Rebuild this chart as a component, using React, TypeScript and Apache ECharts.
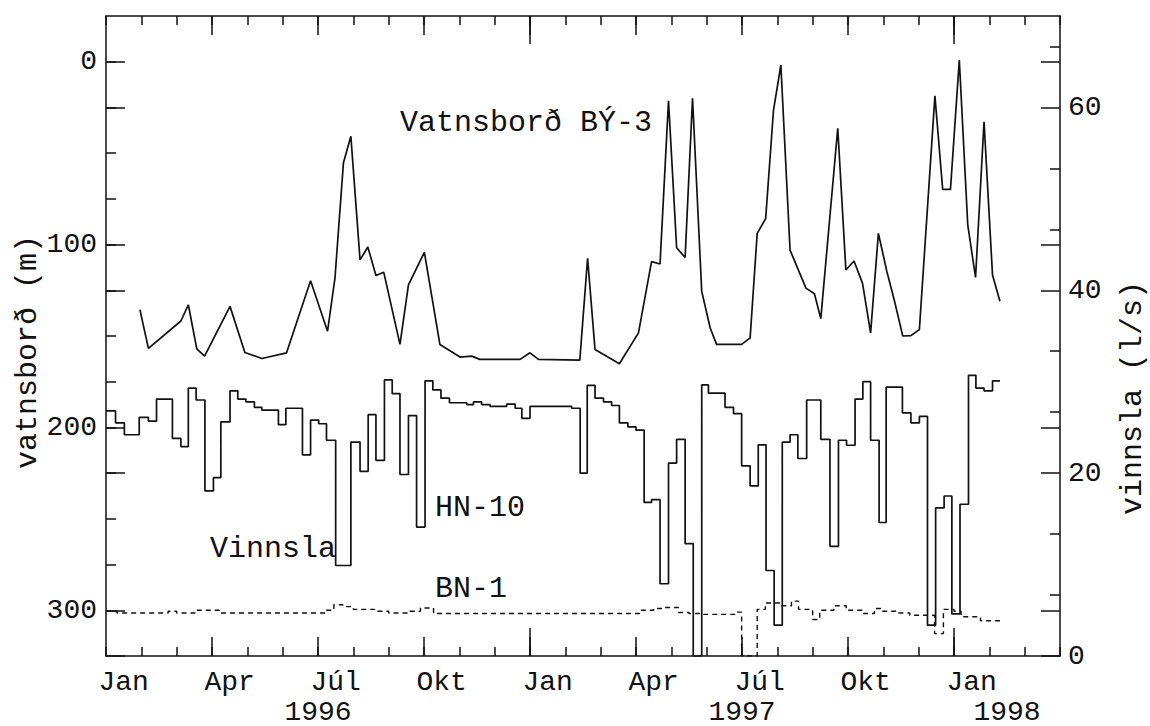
import React, { useEffect, useRef } from "react";
import * as echarts from "echarts";

// ---------- axis ranges / ticks ----------
const X_MIN = 0; // months after 1 Jan 1996
const X_MAX = 27;
const monthTicks = [0, 1, 2, 3, 4, 5, 6, 7, 8, 9, 10, 11, 12, 13, 14, 15, 16, 17, 18, 19, 20, 21, 22, 23, 24, 25, 26, 27];
const quarterTicks = [3, 6, 9, 12, 15, 18, 21, 24];
const yearTicks = [12, 24];
const monthLabelPos = [0.5, 3.5, 6.5, 9.5, 12.5, 15.5, 18.5, 21.5, 24.5];
const monthLabels = ["Jan", "Apr", "Júl", "Okt", "Jan", "Apr", "Júl", "Okt", "Jan"];
const yearLabelPos = [6, 18, 25.5];
const yearLabels = ["1996", "1997", "1998"];

const levelMajor = [0, 100, 200, 300];
const levelMinor = [0, 25, 50, 75, 100, 125, 150, 175, 200, 225, 250, 275, 300];
const flowMajor = [0, 20, 40, 60];
const flowMinor = [6.667, 13.333, 26.667, 33.333, 46.667, 53.333, 66.667];

// ---------- data ----------
// Vatnsborð BÝ-3 (m, left axis, inverted)
const by3Month = [0.96, 1.2, 2.12, 2.33, 2.57, 2.79, 3.51, 3.93, 4.41, 5.11, 5.79, 6.27, 6.48, 6.72, 6.93, 7.19, 7.41, 7.64, 7.86, 8.32, 8.56, 9.01, 9.45, 10.02, 10.35, 10.58, 11.72, 12.0, 12.24, 13.41, 13.63, 13.84, 14.53, 15.07, 15.44, 15.68, 15.92, 16.15, 16.39, 16.6, 16.86, 17.1, 17.28, 17.99, 18.23, 18.43, 18.67, 18.89, 19.1, 19.36, 19.81, 20.05, 20.23, 20.71, 20.94, 21.17, 21.41, 21.64, 21.86, 22.1, 22.33, 22.55, 22.78, 23.02, 23.46, 23.68, 23.9, 24.15, 24.39, 24.61, 24.85, 25.09, 25.3];
const by3Level = [135.6, 156.8, 141.8, 132.9, 157, 161, 133.8, 159, 162.3, 159.2, 119.8, 147.4, 118.4, 55.3, 40.8, 108.4, 101.3, 116.9, 115.1, 154.6, 122, 104.2, 154.6, 161.5, 161, 162.8, 162.8, 159.2, 162.8, 163.2, 107.5, 157.4, 165.2, 148.3, 109.3, 110.6, 21.4, 101.7, 107.1, 20, 125.6, 145.6, 154.6, 154.6, 151, 93.9, 85.8, 26.8, 1.8, 103, 123.8, 126.9, 140.5, 36.4, 113.9, 109, 121.1, 148.3, 93.9, 114.7, 132, 150, 149.8, 146.5, 18.7, 69.8, 69.8, -0.9, 89.4, 118, 32.8, 116.6, 131];

// Vinnsla HN-10 (l/s, right axis), level holds from month until next month
const hnMonth = [0, 0.27, 0.52, 0.94, 1.2, 1.43, 1.88, 2.12, 2.33, 2.55, 2.8, 3.04, 3.25, 3.51, 3.73, 3.96, 4.2, 4.41, 4.88, 5.09, 5.56, 5.79, 6.02, 6.24, 6.5, 6.93, 7.19, 7.42, 7.64, 7.88, 8.1, 8.32, 8.56, 8.79, 9.03, 9.25, 9.48, 9.72, 10.21, 10.4, 10.63, 10.87, 11.34, 11.58, 11.77, 12.0, 13.18, 13.42, 13.62, 13.84, 14.08, 14.31, 14.53, 14.77, 15.0, 15.23, 15.44, 15.68, 15.92, 16.15, 16.39, 16.62, 16.86, 17.05, 17.52, 17.76, 17.99, 18.23, 18.46, 18.68, 18.91, 19.14, 19.36, 19.58, 19.83, 20.23, 20.49, 20.73, 20.96, 21.2, 21.42, 21.64, 21.88, 22.08, 22.54, 22.78, 23.02, 23.25, 23.48, 23.72, 23.94, 24.17, 24.41, 24.62, 24.85, 25.09];
const hnFlow = [26.8, 25.5, 24.2, 26.1, 25.7, 28.1, 23.8, 22.9, 29.3, 28.0, 18.05, 19.5, 25.6, 29.0, 28.1, 27.8, 27.2, 26.9, 25.3, 27.1, 22.0, 25.8, 25.4, 23.6, 9.9, 23.4, 20.2, 26.4, 21.4, 30.2, 28.7, 19.85, 26.3, 14.1, 30.1, 29.1, 28.2, 27.7, 27.5, 27.8, 27.5, 27.3, 27.55, 27.1, 26.0, 27.3, 27.1, 20.0, 29.6, 28.2, 27.8, 27.4, 25.5, 25.05, 24.7, 16.8, 17.1, 7.9, 21.1, 23.7, 12.3, 0, 29.65, 28.75, 27.2, 26.5, 20.8, 18.6, 23.1, 9.35, 3.37, 23.4, 24.2, 21.6, 28.0, 23.7, 12.0, 23.6, 23.05, 28.1, 30.0, 23.6, 14.6, 29.4, 26.6, 25.5, 26.2, 3.37, 16.2, 17.5, 4.6, 16.6, 30.7, 29.3, 29.0, 30.1];
const hnEndMonth = 25.3;

// Vinnsla BN-1 (l/s, right axis)
const bnMonth = [0, 0.31, 1.76, 2.0, 2.55, 3.2, 6.2, 6.45, 6.7, 7.0, 7.6, 8.0, 8.6, 8.9, 9.27, 15.1, 15.5, 15.76, 16.2, 16.5, 16.8, 17.85, 17.99, 18.43, 18.66, 19.1, 19.4, 19.6, 20.0, 20.2, 20.6, 20.95, 21.4, 21.75, 21.95, 22.35, 22.75, 23.45, 23.7, 24.0, 24.2, 24.75];
const bnFlow = [4.9, 4.7, 4.9, 4.7, 5.0, 4.7, 5.0, 5.6, 5.4, 5.1, 4.9, 4.7, 4.9, 5.25, 4.65, 5.0, 5.2, 5.3, 4.75, 4.65, 4.55, 4.8, 0, 5.1, 5.8, 5.5, 6.0, 5.1, 4.0, 5.0, 5.5, 5.0, 4.65, 5.2, 4.9, 4.7, 4.45, 2.45, 5.1, 4.9, 4.3, 3.85];
const bnEndMonth = 25.3;

// ---------- styling ----------
const FONT = "Liberation Mono";
const INK = "#111111";
const AXIS_W = 1.5;

function tickX(position: string, values: number[], length: number, showLine: boolean) {
  return {
    type: "value",
    position,
    min: X_MIN,
    max: X_MAX,
    axisLine: { show: showLine, onZero: false, lineStyle: { color: INK, width: AXIS_W } },
    axisTick: { show: true, inside: true, length, customValues: values, lineStyle: { color: INK, width: AXIS_W } },
    axisLabel: { show: false },
    splitLine: { show: false },
  };
}

function tickY(position: string, inverse: boolean, min: number, max: number, values: number[], length: number) {
  return {
    type: "value",
    position,
    inverse,
    min,
    max,
    axisLine: { show: false, onZero: false },
    axisTick: { show: true, inside: true, length, customValues: values, lineStyle: { color: INK, width: AXIS_W } },
    axisLabel: { show: false },
    splitLine: { show: false },
  };
}

function pairs(xs: number[], ys: number[]) {
  return xs.map((x, i) => [x, ys[i]]);
}

export default function App() {
  const ref = useRef<HTMLDivElement>(null);

  useEffect(() => {
    document.body.style.margin = "0";
    const chart = echarts.init(ref.current!, null, { renderer: "svg" });

    const hnData = pairs(hnMonth, hnFlow);
    hnData.push([hnEndMonth, hnFlow[hnFlow.length - 1]]);
    const bnData = pairs(bnMonth, bnFlow);
    bnData.push([bnEndMonth, bnFlow[bnFlow.length - 1]]);

    const option: any = {
      animation: false,
      backgroundColor: "#ffffff",
      grid: { left: 106, right: 90, top: 16, bottom: 67, containLabel: false },
      xAxis: [
        // 0: main bottom, monthly ticks, month labels
        {
          type: "value",
          position: "bottom",
          min: X_MIN,
          max: X_MAX,
          axisLine: { show: true, onZero: false, lineStyle: { color: INK, width: AXIS_W } },
          axisTick: { show: true, inside: true, length: 9, customValues: monthTicks, lineStyle: { color: INK, width: AXIS_W } },
          axisLabel: {
            show: true,
            customValues: monthLabelPos,
            margin: 12,
            color: INK,
            fontFamily: FONT,
            fontSize: 28,
            formatter: (v: number) => {
              const i = monthLabelPos.findIndex((p) => Math.abs(p - v) < 1e-6);
              return i >= 0 ? monthLabels[i] : "";
            },
          },
          splitLine: { show: false },
        },
        // 1: year labels
        {
          type: "value",
          position: "bottom",
          min: X_MIN,
          max: X_MAX,
          axisLine: { show: false, onZero: false },
          axisTick: { show: false },
          axisLabel: {
            show: true,
            customValues: yearLabelPos,
            margin: 42,
            color: INK,
            fontFamily: FONT,
            fontSize: 28,
            formatter: (v: number) => {
              const i = yearLabelPos.findIndex((p) => Math.abs(p - v) < 1e-6);
              return i >= 0 ? yearLabels[i] : "";
            },
          },
          splitLine: { show: false },
        },
        tickX("bottom", quarterTicks, 19, false),
        tickX("bottom", yearTicks, 28, false),
        tickX("top", monthTicks, 9, true),
        tickX("top", quarterTicks, 19, false),
        tickX("top", yearTicks, 28, false),
      ],
      yAxis: [
        // 0: vatnsborð (left, inverted)
        {
          type: "value",
          position: "left",
          inverse: true,
          min: -25,
          max: 325,
          axisLine: { show: true, onZero: false, lineStyle: { color: INK, width: AXIS_W } },
          axisTick: { show: true, inside: true, length: 19, customValues: levelMajor, lineStyle: { color: INK, width: AXIS_W } },
          axisLabel: { show: true, customValues: levelMajor, margin: 9, color: INK, fontFamily: FONT, fontSize: 28 },
          splitLine: { show: false },
        },
        // 1: vinnsla (right)
        {
          type: "value",
          position: "right",
          min: 0,
          max: 70,
          axisLine: { show: true, onZero: false, lineStyle: { color: INK, width: AXIS_W } },
          axisTick: { show: true, inside: true, length: 19, customValues: flowMajor, lineStyle: { color: INK, width: AXIS_W } },
          axisLabel: { show: true, customValues: flowMajor, margin: 8, color: INK, fontFamily: FONT, fontSize: 28 },
          splitLine: { show: false },
        },
        tickY("left", true, -25, 325, levelMinor, 10),
        tickY("left", false, 0, 70, flowMajor, 19),
        tickY("right", false, 0, 70, flowMinor, 10),
        tickY("right", true, -25, 325, levelMajor, 19),
      ],
      series: [
        {
          name: "Vatnsborð BÝ-3",
          type: "line",
          xAxisIndex: 0,
          yAxisIndex: 0,
          data: pairs(by3Month, by3Level),
          symbol: "none",
          lineStyle: { color: INK, width: 1.7 },
        },
        {
          name: "HN-10",
          type: "line",
          xAxisIndex: 0,
          yAxisIndex: 1,
          step: "end",
          data: hnData,
          symbol: "none",
          lineStyle: { color: INK, width: 1.7 },
        },
        {
          name: "BN-1",
          type: "line",
          xAxisIndex: 0,
          yAxisIndex: 1,
          step: "end",
          data: bnData,
          symbol: "none",
          lineStyle: { color: INK, width: 1.4, type: [5, 4] },
        },
      ],
      graphic: [
        { type: "text", left: 400, top: 108, style: { text: "Vatnsborð BÝ-3", fill: INK, font: `30px "${FONT}"` } },
        { type: "text", left: 435, top: 493, style: { text: "HN-10", fill: INK, font: `30px "${FONT}"` } },
        { type: "text", left: 435, top: 574, style: { text: "BN-1", fill: INK, font: `30px "${FONT}"` } },
        { type: "text", left: 210, top: 534, style: { text: "Vinnsla", fill: INK, font: `30px "${FONT}"` } },
        {
          type: "text",
          x: 28,
          y: 352,
          rotation: Math.PI / 2,
          style: { text: "vatnsborð (m)", fill: INK, font: `30px "${FONT}"`, align: "center", verticalAlign: "middle" },
        },
        {
          type: "text",
          x: 1133,
          y: 398,
          rotation: Math.PI / 2,
          style: { text: "vinnsla (l/s)", fill: INK, font: `30px "${FONT}"`, align: "center", verticalAlign: "middle" },
        },
      ],
    };

    chart.setOption(option);
    return () => chart.dispose();
  }, []);

  return (
    <div
      ref={ref}
      style={{ position: "absolute", left: 0, top: 0, width: 1150, height: 726, background: "#ffffff" }}
    />
  );
}
